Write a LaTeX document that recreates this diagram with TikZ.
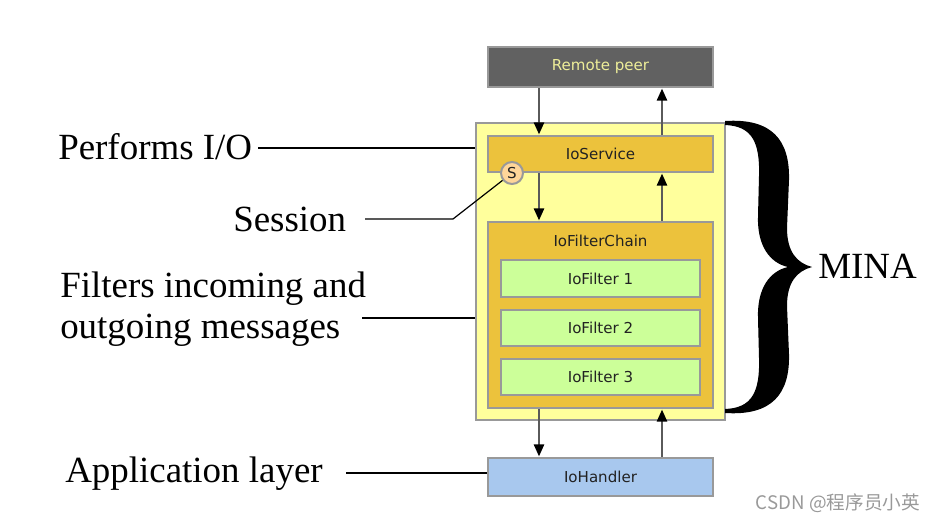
\documentclass[tikz,border=0pt]{standalone}
\usepackage{fontspec}
\setmainfont{Liberation Serif}
\newfontfamily\boxfont{DejaVu Sans}
\newfontfamily\cjkfont{Noto Sans CJK SC}
\usetikzlibrary{arrows.meta}
\definecolor{peerfill}{HTML}{616161}
\definecolor{peertext}{HTML}{EEEE99}
\definecolor{minafill}{HTML}{FFFF9C}
\definecolor{goldfill}{HTML}{ECC23C}
\definecolor{greenfill}{HTML}{CCFF99}
\definecolor{bluefill}{HTML}{A8C8EE}
\definecolor{sessfill}{HTML}{FFD699}
\definecolor{edgegray}{HTML}{999999}
\definecolor{arrowgray}{HTML}{5A5A5A}
\definecolor{txtdark}{HTML}{222222}
\begin{document}
\begin{tikzpicture}[x=0.75pt,y=-0.75pt,
  box/.style={draw=edgegray,line width=1.5pt,rectangle,inner sep=0pt,
    font=\boxfont\fontsize{11.3}{13}\selectfont,text=txtdark},
  lbl/.style={font=\fontsize{27.7}{32}\selectfont,inner sep=0pt,anchor=base west},
  lead/.style={line width=0.9pt,black},
  flow/.style={line width=1.7pt,arrowgray,-{Triangle[length=9pt,width=7.5pt,black]},
    shorten >=0.4pt}
]
\useasboundingbox (0,0) rectangle (939,522);
% boxes
\node[box,fill=peerfill,text=peertext,minimum width=225*0.75pt,minimum height=40*0.75pt] (peer) at (600.5,67) {Remote peer};
\node[box,fill=minafill,minimum width=249*0.75pt,minimum height=297*0.75pt] (mina) at (600.5,271.5) {};
\node[box,fill=goldfill,minimum width=225*0.75pt,minimum height=36*0.75pt] (svc) at (600.5,154) {IoService};
\node[box,fill=goldfill,minimum width=225*0.75pt,minimum height=186*0.75pt] (chain) at (600.5,315) {};
\node[font=\boxfont\fontsize{11.3}{13}\selectfont,text=txtdark,inner sep=0pt] (chainlbl) at (600.5,241) {IoFilterChain};
\node[box,fill=greenfill,minimum width=199*0.75pt,minimum height=37*0.75pt] (f1) at (600.5,278.5) {IoFilter 1};
\node[box,fill=greenfill,minimum width=199*0.75pt,minimum height=36*0.75pt] (f2) at (600.5,328) {IoFilter 2};
\node[box,fill=greenfill,minimum width=199*0.75pt,minimum height=36*0.75pt] (f3) at (600.5,377) {IoFilter 3};
\node[box,fill=bluefill,minimum width=225*0.75pt,minimum height=38*0.75pt] (hdl) at (600.5,477) {IoHandler};
\node[circle,draw=edgegray,line width=1.5pt,fill=sessfill,minimum size=22*0.75pt,inner sep=0pt,
  font=\boxfont\fontsize{11.3}{13}\selectfont,text=txtdark] (sess) at (512,173) {S};
% flow arrows
\coordinate (L) at (539,0);
\coordinate (R) at (662,0);
\draw[flow] (peer.south -| L) -- (svc.north -| L);
\draw[flow] (svc.north -| R) -- (peer.south -| R);
\draw[flow] (svc.south -| L) -- (chain.north -| L);
\draw[flow] (chain.north -| R) -- (svc.south -| R);
\draw[flow] (chain.south -| L) -- (hdl.north -| L);
\draw[flow] (hdl.north -| R) -- (chain.south -| R);
% left labels
\node[lbl] (tio) at (58,159) {Performs I/O};
\node[lbl] (tsess) at (233,231) {Session};
\node[lbl] (tfil1) at (60,297) {Filters incoming and};
\node[lbl] (tfil2) at (60,338) {outgoing messages};
\node[lbl] (tapp) at (65,482) {Application layer};
\coordinate (cio) at (258,148);
\coordinate (csess) at (365,219);
\coordinate (cbend) at (453,219);
\coordinate (cfil) at (362,318);
\coordinate (capp) at (346,473);
\draw[lead] (cio) -- (cio -| mina.west);
\draw[lead] (csess) -- (cbend) -- (sess);
\draw[lead] (cfil) -- (cfil -| mina.west);
\draw[lead] (capp) -- (capp -| hdl.west);
% brace
\fill[black] (725,121) .. controls (772,118) and (790,140) .. (789,180)
  -- (787,228) .. controls (787,252) and (797,263) .. (812,267)
  .. controls (797,271) and (787,282) .. (787,306)
  -- (789,354) .. controls (790,394) and (772,416) .. (725,413)
  -- (725,409) .. controls (752,408) and (760,392) .. (759,358)
  -- (758,318) .. controls (757,288) and (770,271) .. (788,267)
  .. controls (770,263) and (757,246) .. (758,216)
  -- (759,176) .. controls (760,142) and (752,126) .. (725,125) -- cycle;
\node[lbl] (tmina) at (818,278) {MINA};
% watermark
\node[font=\cjkfont\fontsize{14}{16}\selectfont,text=edgegray,inner sep=0pt] (wm) at (838,503) {CSDN @程序员小英};
\end{tikzpicture}
\end{document}
